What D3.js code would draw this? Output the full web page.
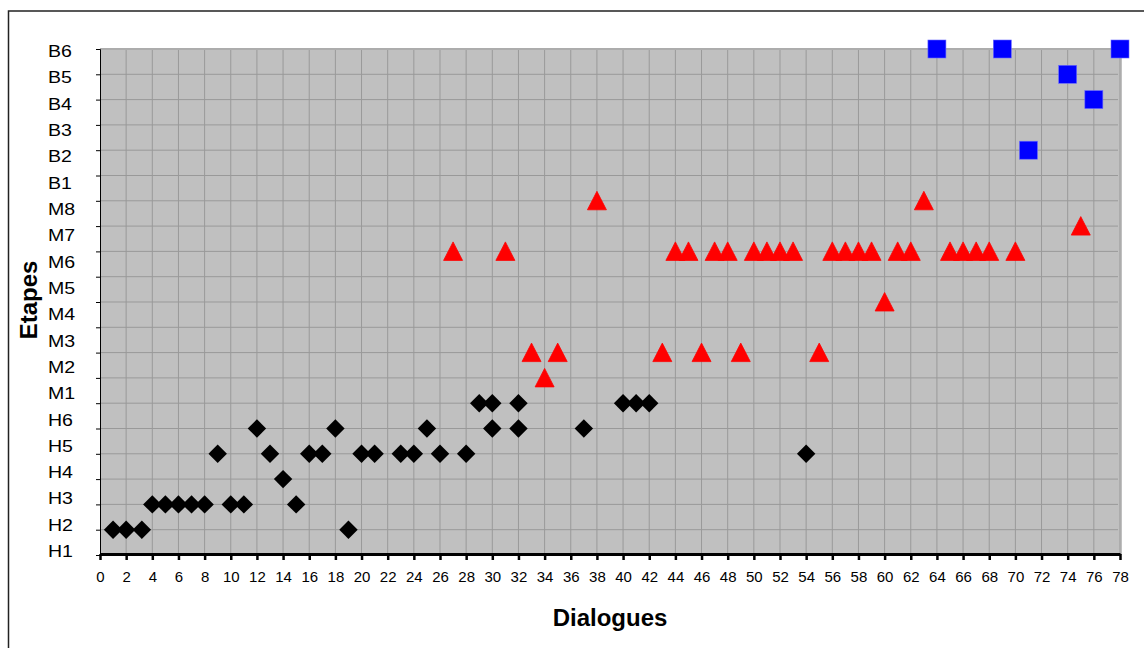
<!DOCTYPE html>
<html>
<head>
<meta charset="utf-8">
<script src="https://cdn.jsdelivr.net/npm/d3@7"></script>
<style>
  body { margin: 0; background: #fff; }
  svg { display: block; font-family: Arial, "Liberation Sans", sans-serif; }
</style>
</head>
<body>
<svg id="chart" width="1144" height="648"></svg>
<script>
// étapes, du haut vers le bas
var etapes = ["B6","B5","B4","B3","B2","B1","M8","M7","M6","M5","M4","M3","M2","M1","H6","H5","H4","H3","H2","H1"];

// points [dialogue, niveau]
var serieH = [[1,1],[2,1],[3.2,1],[4,2],[5,2],[6,2],[7,2],[8,2],[9,4],[10,2],[11,2],[12,5],[13,4],[14,3],[15,2],
  [16,4],[17,4],[18,5],[19,1],[20,4],[21,4],[23,4],[24,4],[25,5],[26,4],[28,4],[29,6],[30,6],[30,5],[32,6],[32,5],
  [37,5],[40,6],[41,6],[42,6],[54,4]];
var serieM = [[27,12],[31,12],[33,8],[34,7],[35,8],[38,14],[43,8],[44,12],[45,12],[46,8],[47,12],[48,12],[49,8],
  [50,12],[51,12],[52,12],[53,12],[55,8],[56,12],[57,12],[58,12],[59,12],[60,10],[61,12],[62,12],[63,14],
  [65,12],[66,12],[67,12],[68,12],[70,12],[75,13]];
var serieB = [[64,20],[69,20],[71,16],[74,19],[76,18],[78,20]];

var xTicks = d3.range(0, 79, 2);

var svg = d3.select("#chart");
var margin = {top: 49, right: 24, bottom: 93, left: 100};
var W = 1144, H = 648;

var x = d3.scaleLinear().domain([0, 78]).range([margin.left, W - margin.right]);
var y = d3.scaleLinear().domain([0, 20]).range([H - margin.bottom, margin.top]);
// les libellés d'étapes sont un peu décalés par rapport aux graduations (zone de texte)
var yLab = d3.scalePoint().domain(etapes).range([51, 551]);

// cadre
svg.append("path")
  .attr("d", "M8.5," + (H + 5) + " V11 H" + (W + 5))
  .attr("fill", "none").attr("stroke", "#222").attr("stroke-width", 1.5);

// fond gris
svg.append("rect")
  .attr("x", x(0)).attr("y", y(20) - 1)
  .attr("width", x(78) + 2 - x(0)).attr("height", y(0) - y(20) + 1)
  .attr("fill", "#c0c0c0");

// grille
svg.append("g").selectAll("line").data(d3.range(1, 21)).enter().append("line")
  .attr("x1", x(0)).attr("x2", x(78) - 2)
  .attr("y1", d => y(d)).attr("y2", d => y(d))
  .attr("stroke", "#999").attr("stroke-width", 1);
svg.append("g").selectAll("line").data(xTicks.slice(1)).enter().append("line")
  .attr("x1", d => x(d)).attr("x2", d => x(d))
  .attr("y1", y(20) + 1).attr("y2", y(0))
  .attr("stroke", "#999").attr("stroke-width", 1);

// axe des ordonnées
svg.append("g")
  .attr("transform", "translate(" + x(0) + ",0)")
  .call(d3.axisLeft(y).ticks(20).tickSize(4).tickFormat(""))
  .call(g => g.selectAll("line, path").attr("stroke", "#000"));

// axe des abscisses
svg.append("g")
  .attr("transform", "translate(0," + (y(0) - 1) + ")")
  .call(d3.axisBottom(x).tickValues(xTicks).tickSize(6).tickSizeOuter(0).tickPadding(11))
  .call(g => g.select(".domain").attr("stroke", "#000").attr("stroke-width", 3))
  .call(g => g.selectAll(".tick line").attr("stroke", "#000").attr("stroke-width", 2.5))
  .call(g => g.selectAll("text").attr("font-size", 15).attr("fill", "#000")
    .attr("font-family", "Arial, 'Liberation Sans', sans-serif"));

// libellés des étapes
svg.append("g").selectAll("text").data(etapes).enter().append("text")
  .attr("x", 48).attr("y", d => yLab(d))
  .attr("dy", "0.36em")
  .attr("font-size", 17)
  .attr("transform", d => "translate(48," + yLab(d) + ") scale(1.15,1) translate(-48," + (-yLab(d)) + ")")
  .text(d => d);

// titres des axes
svg.append("text")
  .attr("x", 610).attr("y", 626)
  .attr("text-anchor", "middle")
  .attr("font-size", 24).attr("font-weight", "bold")
  .text("Dialogues");
svg.append("text")
  .attr("transform", "translate(37,300) rotate(-90)")
  .attr("text-anchor", "middle")
  .attr("font-size", 24).attr("font-weight", "bold")
  .text("Etapes");

// marqueurs
var losange = d3.symbol(d3.symbolSquare, 170);
svg.append("g").selectAll("path").data(serieH).enter().append("path")
  .attr("d", losange)
  .attr("transform", d => "translate(" + x(d[0]) + "," + y(d[1]) + ") rotate(45)")
  .attr("fill", "#000");

var triangle = "M0,-9.5 L9.5,9 L-9.5,9 Z";
svg.append("g").selectAll("path").data(serieM).enter().append("path")
  .attr("d", triangle)
  .attr("transform", d => "translate(" + x(d[0]) + "," + y(d[1]) + ")")
  .attr("fill", "#ff0000").attr("stroke", "#ff0000").attr("stroke-width", 0.8)
  .attr("stroke-linejoin", "round");

svg.append("g").selectAll("rect").data(serieB).enter().append("rect")
  .attr("x", d => x(d[0]) - 9).attr("y", d => y(d[1]) - 9)
  .attr("width", 18).attr("height", 18)
  .attr("fill", "#0000ff").attr("stroke", "#6a6aff").attr("stroke-width", 0.6);
</script>
</body>
</html>
